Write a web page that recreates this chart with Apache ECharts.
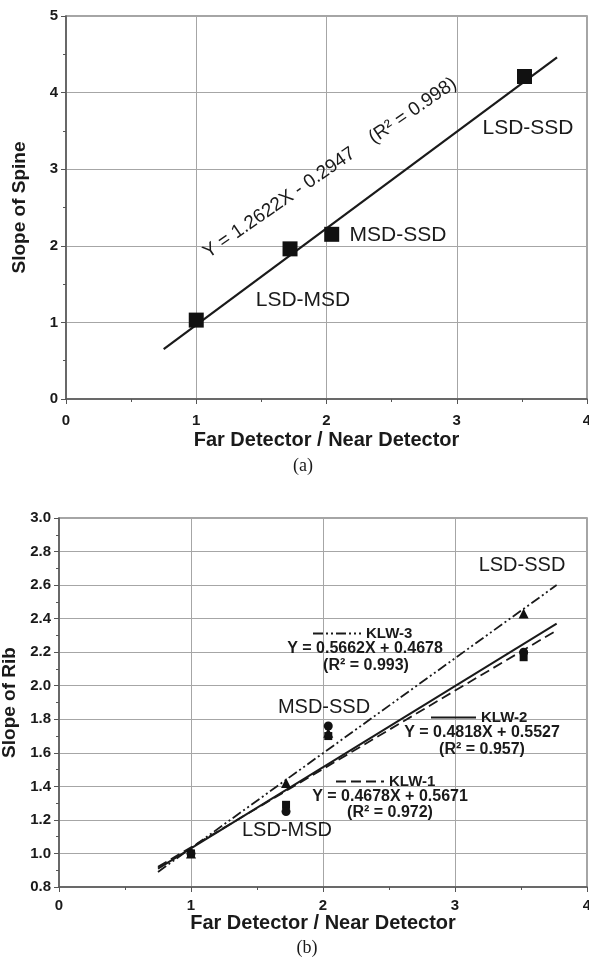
<!DOCTYPE html>
<html>
<head>
<meta charset="utf-8">
<script src="https://cdn.jsdelivr.net/npm/echarts@6/dist/echarts.min.js"></script>
<style>html,body{margin:0;background:#fff}#chart{width:589px;height:963px}</style>
</head>
<body>
<div id="chart"></div>
<script>
// (a) spine
const spineX = [1.0, 1.72, 2.04, 3.52];
const spineY = [1.03, 1.96, 2.15, 4.21];
const spineFitX = [0.75, 3.77];
const spineFitY = [0.65, 4.46];

// (b) rib
const ribX = [1.0, 1.72, 2.04, 3.52];
const ribKlw1 = [1.0, 1.29, 1.70, 2.17];   // squares
const ribKlw2 = [1.0, 1.25, 1.76, 2.20];   // circles
const ribKlw3 = [1.0, 1.42, 1.72, 2.43];   // triangles
const ribFitX = [0.75, 3.77];
const ribFit1 = [0.92, 2.33];
const ribFit2 = [0.91, 2.37];
const ribFit3 = [0.89, 2.60];

const pairs = (xs, ys) => xs.map((x, i) => [x, ys[i]]);

const SANS = 'Liberation Sans';
const ink = '#1a1a1a';

function xAxisOf(gridIndex, gap, margin) {
  return {
    gridIndex, type: 'value', min: 0, max: 4, interval: 1,
    name: 'Far Detector / Near Detector', nameLocation: 'middle', nameGap: gap,
    nameTextStyle: {fontFamily: SANS, fontWeight: 'bold', fontSize: 20, color: ink},
    axisLine: {onZero: false, lineStyle: {color: '#555', width: 1.5}},
    axisTick: {length: 5, lineStyle: {color: '#555'}},
    minorTick: {show: true, splitNumber: 2, length: 3, lineStyle: {color: '#555'}},
    axisLabel: {fontFamily: SANS, fontWeight: 'bold', fontSize: 15, color: ink, margin},
    splitLine: {lineStyle: {color: '#a6a6a6'}}
  };
}

function yAxisOf(gridIndex, name, min, max, interval, gap, digits) {
  return {
    gridIndex, type: 'value', min, max, interval,
    name, nameLocation: 'middle', nameGap: gap,
    nameTextStyle: {fontFamily: SANS, fontWeight: 'bold', fontSize: 19, color: ink},
    axisLine: {onZero: false, lineStyle: {color: '#555', width: 1.5}},
    axisTick: {length: 5, lineStyle: {color: '#555'}},
    minorTick: {show: true, splitNumber: 2, length: 3, lineStyle: {color: '#555'}},
    axisLabel: {fontFamily: SANS, fontWeight: 'bold', fontSize: 15, color: ink, margin: 8,
      formatter: v => v.toFixed(digits)},
    splitLine: {lineStyle: {color: '#a6a6a6', width: 1.2}}
  };
}

function note(text, x, y, size, bold, extra) {
  return Object.assign({
    type: 'text', x, y, z: 100,
    style: {text, fill: ink, align: 'center', verticalAlign: 'middle',
      font: (bold ? 'bold ' : '') + size + 'px ' + SANS}
  }, extra || {});
}

function legendOf(name, left, top, width) {
  return {
    data: [name], left, top, padding: 0, itemWidth: width, itemHeight: 12,
    itemStyle: {opacity: 0},
    textStyle: {fontFamily: SANS, fontWeight: 'bold', fontSize: 15, color: ink}
  };
}

const dot = {color: '#111', opacity: 1};

const chart = echarts.init(document.getElementById('chart'));
chart.setOption({
  animation: false,
  backgroundColor: '#fff',
  grid: [
    {left: 66, top: 16, right: 2, bottom: 564, show: true, borderColor: '#888', borderWidth: 1.5,
      outerBoundsMode: 'none'},
    {left: 59, top: 518, right: 2, bottom: 76, show: true, borderColor: '#888', borderWidth: 1.5,
      outerBoundsMode: 'none'}
  ],
  xAxis: [xAxisOf(0, 31, 14), xAxisOf(1, 25, 11)],
  yAxis: [
    yAxisOf(0, 'Slope of Spine', 0, 5, 1, 37, 0),
    yAxisOf(1, 'Slope of Rib', 0.8, 3.0, 0.2, 40, 1)
  ],
  legend: [
    legendOf('KLW-3', 312, 626, 48),
    legendOf('KLW-2', 430, 710, 45),
    legendOf('KLW-1', 335, 774, 48)
  ],
  series: [
    {type: 'line', xAxisIndex: 0, yAxisIndex: 0, data: pairs(spineFitX, spineFitY),
      symbol: 'none', lineStyle: {color: ink, width: 2.2}},
    {type: 'scatter', xAxisIndex: 0, yAxisIndex: 0, data: pairs(spineX, spineY),
      symbol: 'rect', symbolSize: 15, itemStyle: dot, z: 5},

    {name: 'KLW-3', type: 'line', xAxisIndex: 1, yAxisIndex: 1, data: pairs(ribFitX, ribFit3),
      symbol: 'none', itemStyle: {color: ink},
      lineStyle: {color: ink, width: 1.8, type: [10, 3, 2, 3, 2, 3]}},
    {name: 'KLW-2', type: 'line', xAxisIndex: 1, yAxisIndex: 1, data: pairs(ribFitX, ribFit2),
      symbol: 'none', itemStyle: {color: ink}, lineStyle: {color: ink, width: 2}},
    {name: 'KLW-1', type: 'line', xAxisIndex: 1, yAxisIndex: 1, data: pairs(ribFitX, ribFit1),
      symbol: 'none', itemStyle: {color: ink}, lineStyle: {color: ink, width: 1.8, type: [10, 5]}},
    {type: 'scatter', xAxisIndex: 1, yAxisIndex: 1, data: pairs(ribX, ribKlw1),
      symbol: 'rect', symbolSize: 8, itemStyle: dot, z: 5},
    {type: 'scatter', xAxisIndex: 1, yAxisIndex: 1, data: pairs(ribX, ribKlw2),
      symbol: 'circle', symbolSize: 9, itemStyle: dot, z: 5},
    {type: 'scatter', xAxisIndex: 1, yAxisIndex: 1, data: pairs(ribX, ribKlw3),
      symbol: 'triangle', symbolSize: 10, itemStyle: dot, z: 5}
  ],
  graphic: [
    note('Y = 1.2622X - 0.2947    (R\u00b2 = 0.998)', 330, 168, 19, false, {rotation: 0.604}),
    note('LSD-SSD', 528, 128, 21, false),
    note('MSD-SSD', 398, 235, 21, false),
    note('LSD-MSD', 303, 300, 21, false),
    {type: 'text', x: 303, y: 466, style: {text: '(a)', fill: ink, align: 'center',
      verticalAlign: 'middle', font: '18px Liberation Serif'}},

    note('LSD-SSD', 522, 565, 20, false),
    note('MSD-SSD', 324, 707, 20, false),
    note('LSD-MSD', 287, 830, 20, false),
    note('Y = 0.5662X + 0.4678', 365, 649, 16, true),
    note('(R\u00b2 = 0.993)', 366, 666, 16, true),
    note('Y = 0.4818X + 0.5527', 482, 733, 16, true),
    note('(R\u00b2 = 0.957)', 482, 750, 16, true),
    note('Y = 0.4678X + 0.5671', 390, 797, 16, true),
    note('(R\u00b2 = 0.972)', 390, 813, 16, true),
    {type: 'text', x: 307, y: 948, style: {text: '(b)', fill: ink, align: 'center',
      verticalAlign: 'middle', font: '18px Liberation Serif'}}
  ]
});
</script>
</body>
</html>
